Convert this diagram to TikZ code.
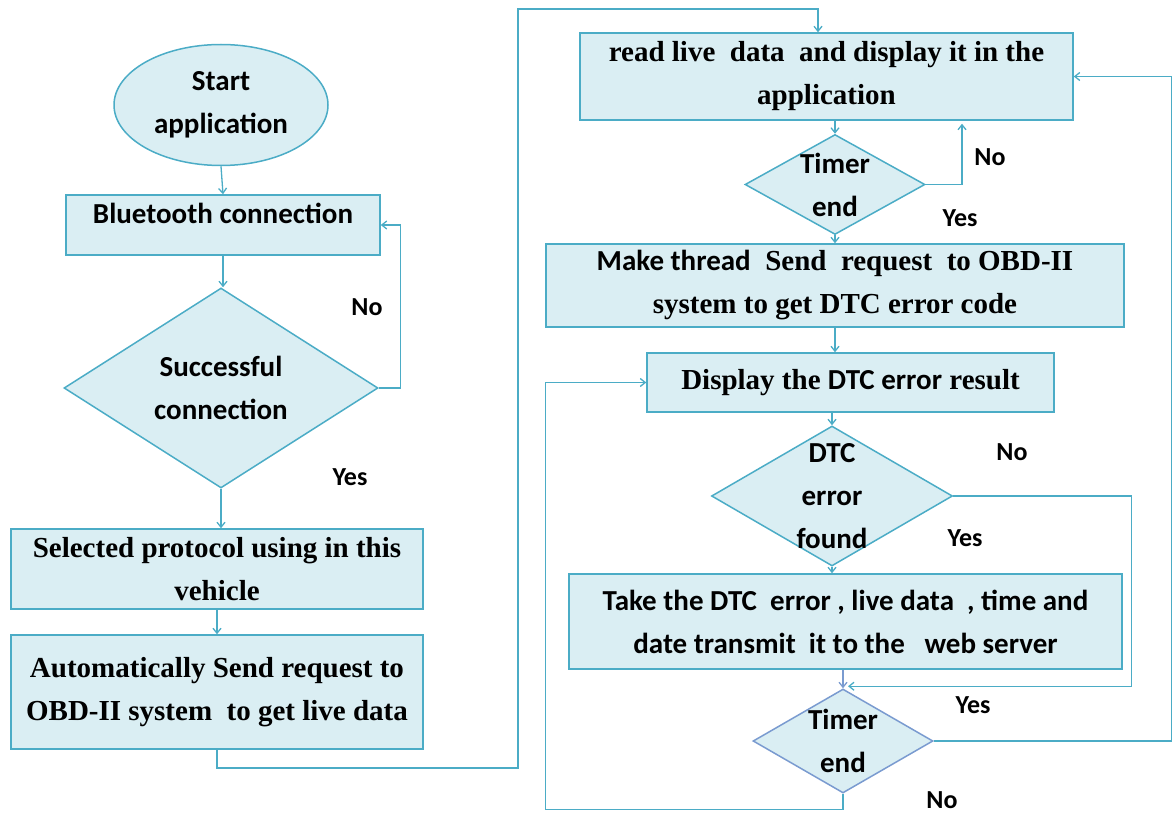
\documentclass[tikz,border=0pt]{standalone}
\usepackage{fontspec}
\usetikzlibrary{shapes.geometric,arrows.meta}
\newfontfamily\cbf{Carlito}
\newfontfamily\tbf{Liberation Serif}
\definecolor{fillc}{HTML}{DAEEF3}
\definecolor{linec}{HTML}{4BACC6}
\definecolor{linec2}{HTML}{7A9BD0}
\tikzset{
  box/.style={draw=linec, fill=fillc, line width=1.5pt, rectangle, inner sep=0pt, align=center},
  dia/.style={draw=linec, fill=fillc, line width=1.5pt, diamond, inner sep=0pt},
  conn/.style={draw=linec, line width=1.3pt, -{Straight Barb[length=5pt,width=8pt]}},
  sanstxt/.style={font=\cbf\bfseries\fontsize{29}{43}\selectfont, align=center},
  seriftxt/.style={font=\tbf\bfseries\fontsize{29}{43}\selectfont, align=center},
  lab/.style={font=\cbf\bfseries\fontsize{26}{30}\selectfont}
}
\begin{document}
\begin{tikzpicture}[x=1pt,y=-1pt]
\useasboundingbox (0,0) rectangle (1173,813);
% left column
\node[box, ellipse, minimum width=214pt, minimum height=121pt, sanstxt] (start) at (221,105) {Start\\application};
\node[box, minimum width=314pt, minimum height=60pt] (bt) at (223,225) {};
\node[sanstxt] (btT) at (223,213) {Bluetooth connection};
\node[dia, minimum width=314pt, minimum height=200pt] (succ) at (221,388) {};
\node[sanstxt] (succT) at (succ.center) {Successful\\connection};
\node[box, seriftxt, minimum width=412pt, minimum height=80pt] (sel) at (217,569) {Selected protocol using in this\\vehicle};
\node[box, seriftxt, minimum width=412pt, minimum height=114pt] (auto) at (217,692) {Automatically Send request to\\OBD-II system\ \ to get live data};
% right column
\node[box, seriftxt, minimum width=493pt, minimum height=87pt] (read) at (826.5,76.5) {read live\ \ data\ \ and display it in the\\application};
\node[dia, minimum width=180pt, minimum height=100pt] (t1) at (835,184.5) {};
\node[sanstxt] (t1T) at (t1.center) {Timer\\end};
\node[box, seriftxt, minimum width=578pt, minimum height=83pt] (make) at (835,285.5) {{\cbf Make thread}\ \ Send\ \ request\ \ to OBD-II\\system to get DTC error code};
\node[box, seriftxt, minimum width=407pt, minimum height=59pt] (disp) at (850.5,382.5) {Display the {\cbf DTC error} result};
\node[dia, minimum width=241pt, minimum height=140pt] (dtc) at (832,496) {};
\node[sanstxt] (dtcT) at (dtc.center) {DTC\\error\\found};
\node[box, sanstxt, minimum width=553pt, minimum height=95pt] (take) at (845.5,621.5) {Take the DTC\ \ error , live data\ \ , time and\\date transmit\ \ it to the\ \ \ web server};
\node[dia, draw=linec2, minimum width=180pt, minimum height=104pt] (t2) at (843,741) {};
\node[sanstxt] (t2T) at (t2.center) {Timer\\end};
% junction coordinates
\coordinate (j1) at (518,768);
\coordinate (j2) at (818,9);
% connectors
\draw[conn] (start.south) -- (bt.north);
\draw[conn] (bt.south) -- (bt.south |- succ.north);
\draw[conn] (succ.east) -- ++(22,0) |- (bt.east);
\draw[conn] (succ.south) -- (succ.south |- sel.north);
\draw[conn] (sel.south) -- (auto.north);
\draw[conn] (auto.south) |- (j1) |- (j2) -- ([xshift=-8.5pt]read.north);
\draw[conn] (t1.north |- read.south) -- (t1.north);
\draw[conn] (t1.east) -| ([xshift=135.5pt,yshift=-3pt]read.south);
\draw[conn] (t1.south) -- (make.north);
\draw[conn] (make.south) -- (make.south |- disp.north);
\draw[conn] (dtc.north |- disp.south) -- (dtc.north);
\draw[conn] (dtc.south) -- (dtc.south |- take.north);
\draw[conn, draw=linec2] (t2.north |- take.south) -- (t2.north);
\draw[conn] (dtc.east) -- ++(178,0) |- ([xshift=5pt,yshift=2pt]t2.north);
\draw[conn] (t2.east) -- ++(238,0) |- (read.east);
\draw[conn] (t2.south) -- ++(0,16) -| ([xshift=-101pt]disp.west) -- (disp.west);
% labels
\node[lab] (l1) at (367,307) {No};
\node[lab] (l2) at (350,477) {Yes};
\node[lab] (l3) at (990,157) {No};
\node[lab] (l4) at (960,218) {Yes};
\node[lab] (l5) at (1012,452) {No};
\node[lab] (l6) at (965,538) {Yes};
\node[lab] (l7) at (973,705) {Yes};
\node[lab] (l8) at (942,800) {No};
\end{tikzpicture}
\end{document}
